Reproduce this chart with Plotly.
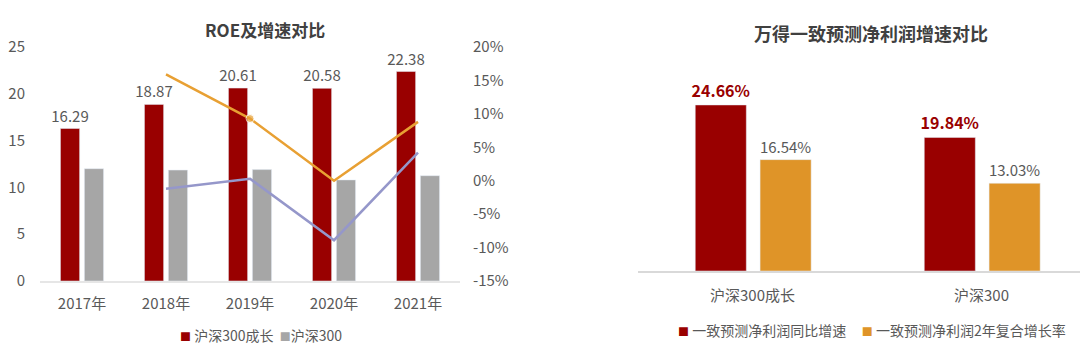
import plotly.graph_objects as go

# ---------------- data ----------------
years = ["2017年", "2018年", "2019年", "2020年", "2021年"]
roe_growth = [16.29, 18.87, 20.61, 20.58, 22.38]      # 沪深300成长 ROE
roe_hs300 = [12.0, 11.85, 11.9, 10.8, 11.25]            # 沪深300 ROE
growth_rate_orange = [None, 15.9, 9.3, 0.0, 8.8]        # % (right axis)
growth_rate_purple = [None, -1.2, 0.3, -8.9, 4.2]       # % (right axis)
right_ticks = [-15, -10, -5, 0, 5, 10, 15, 20]

indices = ["沪深300成长", "沪深300"]
yoy_growth = [24.66, 19.84]
cagr_2y = [16.54, 13.03]

# ---------------- style ----------------
RED = "#990000"
GREY = "#A6A6A6"
ORANGE_LINE = "#E8A033"
PURPLE_LINE = "#9597CA"
ORANGE_BAR = "#DF9428"
TXT = "#595959"
FONT = "Noto Sans CJK SC"
W, H = 1080, 352

def px_x(px):
    return px / W

def px_y(py):
    return (H - py) / H

fig = go.Figure()

# ---- left chart ----
fig.add_trace(go.Bar(
    x=years, y=roe_growth, name="沪深300成长", marker_color=RED,
    text=[f"{v:.2f}" for v in roe_growth], textposition="outside",
    constraintext="none",
    textfont=dict(color=TXT, size=15, family=FONT), cliponaxis=False,
    xaxis="x", yaxis="y", showlegend=False,
))
fig.add_trace(go.Bar(
    x=years, y=roe_hs300, name="沪深300", marker_color=GREY,
    xaxis="x", yaxis="y", showlegend=False,
))
fig.add_trace(go.Scatter(
    x=years, y=growth_rate_orange, mode="lines+markers",
    line=dict(color=ORANGE_LINE, width=2.5),
    marker=dict(size=[0, 0, 8, 0, 0], color=ORANGE_LINE),
    xaxis="x", yaxis="y2", showlegend=False, cliponaxis=False,
))
fig.add_trace(go.Scatter(
    x=years, y=growth_rate_purple, mode="lines",
    line=dict(color=PURPLE_LINE, width=2.5),
    xaxis="x", yaxis="y2", showlegend=False, cliponaxis=False,
))

# ---- right chart ----
fig.add_trace(go.Bar(
    x=indices, y=yoy_growth, name="一致预测净利润同比增速", marker_color=RED,
    width=0.223, offset=-0.25,
    text=[f"{v:.2f}%" for v in yoy_growth], textposition="outside",
    constraintext="none",
    textfont=dict(color=RED, size=16, family=FONT, weight="bold"), cliponaxis=False,
    xaxis="x2", yaxis="y3", showlegend=False,
))
fig.add_trace(go.Bar(
    x=indices, y=cagr_2y, name="一致预测净利润2年复合增长率", marker_color=ORANGE_BAR,
    width=0.223, offset=0.033,
    text=[f"{v:.2f}%" for v in cagr_2y], textposition="outside",
    constraintext="none",
    textfont=dict(color=TXT, size=15, family=FONT), cliponaxis=False,
    xaxis="x2", yaxis="y3", showlegend=False,
))

fig.update_layout(
    width=W, height=H,
    margin=dict(l=0, r=0, t=0, b=0, pad=0, autoexpand=False),
    paper_bgcolor="white", plot_bgcolor="white",
    font=dict(family=FONT, color=TXT, size=14),
    barmode="group", bargap=0.43, bargroupgap=0.2,
    xaxis=dict(
        domain=[px_x(40), px_x(460)], showline=True, linecolor="#E6E6E6", linewidth=1.5,
        ticks="", showgrid=False, tickfont=dict(size=15, color=TXT),
        ticklabelstandoff=8, anchor="y", automargin=False,
    ),
    yaxis=dict(
        domain=[px_y(281), px_y(47)], range=[0, 25], dtick=5, showgrid=False,
        zeroline=False, showline=False, tickfont=dict(size=15, color=TXT),
        ticklabelstandoff=14, anchor="x", automargin=False,
    ),
    yaxis2=dict(
        overlaying="y", side="right", range=[-15, 20], tickvals=right_ticks,
        ticktext=[f"{v}%" for v in right_ticks], showgrid=False, zeroline=False,
        tickfont=dict(size=15, color=TXT), ticklabelstandoff=12, anchor="x",
        automargin=False,
    ),
    xaxis2=dict(
        domain=[px_x(638), 1.0], range=[-0.5, 1.43], showline=True,
        linecolor="#D9D9D9", linewidth=2, ticks="", showgrid=False,
        tickfont=dict(size=15, color=TXT), ticklabelstandoff=10, anchor="y3",
        automargin=False,
    ),
    yaxis3=dict(
        domain=[px_y(271), px_y(69)], range=[0, 30], visible=False, anchor="x2",
    ),
)

def note(text, x, y, size, color=TXT):
    fig.add_annotation(
        text=text, x=px_x(x), y=px_y(y), xref="paper", yref="paper",
        xanchor="center", yanchor="middle", showarrow=False,
        font=dict(size=size, color=color, family=FONT),
    )

note("<b>ROE及增速对比</b>", 265, 29, 17, "#404040")
note("<b>万得一致预测净利润增速对比</b>", 871, 33, 18, "#404040")

sq = "<span style='color:{c};font-size:11px'>■</span>"
note(sq.format(c=RED) + " 沪深300成长  " + sq.format(c=GREY) + "沪深300", 261, 335, 14)
note(sq.format(c=RED) + " 一致预测净利润同比增速     " + sq.format(c=ORANGE_BAR)
     + " 一致预测净利润2年复合增长率", 872, 330, 14)

fig.write_html("out.html")
